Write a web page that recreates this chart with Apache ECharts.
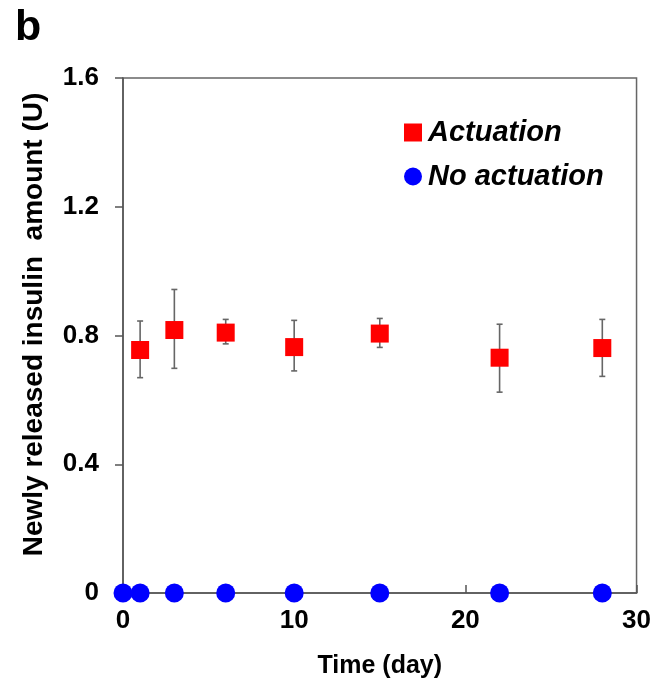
<!DOCTYPE html>
<html><head><meta charset="utf-8">
<script src="https://cdn.jsdelivr.net/npm/echarts@6/dist/echarts.min.js"></script>
<style>html,body{margin:0;padding:0;background:#fff}#c{width:654px;height:696px}</style>
</head><body><div id="c"></div>
<script>
var actDays = [1, 3, 6, 10, 15, 22, 28];
var actMean = [0.755, 0.817, 0.809, 0.764, 0.806, 0.731, 0.761];
var actLow  = [0.669, 0.698, 0.774, 0.690, 0.763, 0.624, 0.673];
var actHigh = [0.845, 0.943, 0.850, 0.847, 0.853, 0.835, 0.850];
var noDays = [0, 1, 3, 6, 10, 15, 22, 28];
var noVals = [0, 0, 0, 0, 0, 0, 0, 0];
var yTicks = [0, 0.4, 0.8, 1.2, 1.6];
var xTicks = [0, 10, 20, 30];

var font = '"Liberation Sans", Arial, sans-serif';
var chart = echarts.init(document.getElementById('c'));
var errData = actDays.map(function(d, i){ return [d, actLow[i], actHigh[i]]; });

chart.setOption({
  animation: false,
  graphic: [{type:'text', left: 15, top: 7, style:{text:'b', font:'bold 43px ' + font, fill:'#000'}}],
  grid: {left: 123, right: 17, top: 78, bottom: 103, show: true, borderColor: '#666', borderWidth: 1.5},
  legend: {
    orient: 'vertical', left: 399, top: 113, itemGap: 15, itemWidth: 18, itemHeight: 18,
    textStyle: {fontFamily: font, fontSize: 29, fontWeight: 'bold', fontStyle: 'italic', color: '#000', padding: [0,0,0,1]},
    data: [{name: 'Actuation', icon: 'rect'}, {name: 'No actuation', icon: 'circle'}]
  },
  xAxis: {
    type: 'value', min: 0, max: 30, interval: 10,
    name: 'Time (day)', nameLocation: 'middle', nameGap: 61,
    nameTextStyle: {fontFamily: font, fontSize: 25, fontWeight: 'bold', color: '#000'},
    axisLine: {lineStyle: {color: '#555', width: 1.5}},
    axisTick: {inside: true, length: 8, lineStyle: {color: '#555', width: 1.5}},
    axisLabel: {margin: 15, fontFamily: font, fontSize: 26, fontWeight: 'bold', color: '#000',
      formatter: function(v){ return xTicks.indexOf(v) >= 0 ? String(v) : ''; }},
    splitLine: {show: false}
  },
  yAxis: {
    type: 'value', min: 0, max: 1.6, interval: 0.4,
    name: 'Newly released insulin  amount (U)', nameLocation: 'middle', nameGap: 75,
    nameTextStyle: {fontFamily: font, fontSize: 28, fontWeight: 'bold', color: '#000', padding: [0,0,0,22]},
    axisLine: {show: true, lineStyle: {color: '#555', width: 1.5}},
    axisTick: {show: true, inside: false, length: 8, lineStyle: {color: '#555', width: 1.5}},
    axisLabel: {margin: 24, fontFamily: font, fontSize: 26, fontWeight: 'bold', color: '#000',
      formatter: function(v){
        for (var i = 0; i < yTicks.length; i++) if (Math.abs(yTicks[i]-v) < 1e-9) return v === 0 ? '0' : v.toFixed(1);
        return '';
      }},
    splitLine: {show: false}
  },
  series: [
    {
      type: 'custom', name: 'err', silent: true, z: 1,
      data: errData,
      renderItem: function(params, api){
        var x = api.value(0);
        var lo = api.coord([x, api.value(1)]);
        var hi = api.coord([x, api.value(2)]);
        var c = 3;
        var st = {stroke: '#666', lineWidth: 1.6};
        return {type: 'group', children: [
          {type:'line', shape:{x1:lo[0], y1:lo[1], x2:hi[0], y2:hi[1]}, style: st},
          {type:'line', shape:{x1:lo[0]-c, y1:lo[1], x2:lo[0]+c, y2:lo[1]}, style: st},
          {type:'line', shape:{x1:hi[0]-c, y1:hi[1], x2:hi[0]+c, y2:hi[1]}, style: st}
        ]};
      }
    },
    {
      type: 'scatter', name: 'Actuation', symbol: 'rect', symbolSize: 18, z: 3,
      itemStyle: {color: '#ff0000', opacity: 1},
      data: actDays.map(function(d, i){ return [d, actMean[i]]; })
    },
    {
      type: 'scatter', name: 'No actuation', symbol: 'circle', symbolSize: 19, z: 3,
      itemStyle: {color: '#0000ff', opacity: 1},
      data: noDays.map(function(d, i){ return [d, noVals[i]]; })
    }
  ]
});
</script>
</body></html>
